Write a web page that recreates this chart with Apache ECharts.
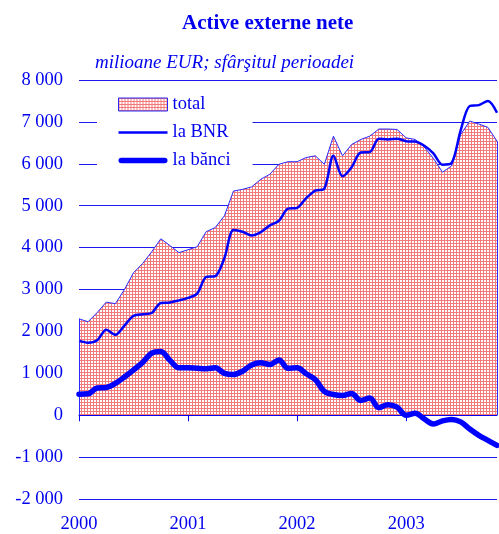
<!DOCTYPE html>
<html>
<head>
<meta charset="utf-8">
<script src="https://cdn.jsdelivr.net/npm/echarts@6/dist/echarts.min.js"></script>
<style>
  html, body { margin: 0; padding: 0; background: #fff; }
  #chart { width: 499px; height: 534px; }
</style>
</head>
<body>
<div id="chart"></div>
<script>
// Net foreign assets, monthly, Jan 2000 – Nov 2003 (million EUR, end of period)
const years = ['2000', '2001', '2002', '2003'];
const monthCount = 47;

const total = [
  2300, 2230, 2450, 2700, 2660, 3000, 3400, 3620, 3900, 4210, 4050, 3880,
  3950, 4020, 4380, 4480, 4760, 5350, 5390, 5450, 5630, 5750, 5990, 6050,
  6050, 6150, 6190, 5990, 6660, 6190, 6460, 6580, 6660, 6830, 6830, 6820,
  6620, 6580, 6400, 6130, 5800, 5950, 6700, 7020, 6950, 6870, 6540
];
const laBNR = [
  1780, 1730, 1790, 2040, 1920, 2140, 2370, 2410, 2440, 2680, 2690, 2740,
  2800, 2900, 3300, 3320, 3750, 4420, 4380, 4290, 4370, 4530, 4640, 4930,
  4950, 5180, 5360, 5410, 6190, 5700, 5920, 6270, 6280, 6600, 6580, 6600,
  6540, 6530, 6430, 6250, 5980, 6020, 6800, 7380, 7400, 7500, 7220
];
const laBanci = [
  500, 510, 650, 660, 760, 910, 1080, 1260, 1480, 1520, 1310, 1130,
  1130, 1120, 1110, 1130, 1000, 970, 1050, 1200, 1250, 1210, 1320, 1120,
  1130, 990, 850, 570, 495, 470, 520, 350, 410, 180, 250, 190,
  0, 45, -90, -210, -135, -100, -160, -330, -480, -600, -720
];

// month categories "YYYY-MM"
const categories = [];
for (let i = 0; i < monthCount; i++) {
  const y = years[Math.floor(i / 12)];
  const m = String(i % 12 + 1).padStart(2, '0');
  categories.push(y + '-' + m);
}

const BLUE = '#0000ee';
const SERIF = '"Liberation Serif", "Times New Roman", serif';

// fine red mesh used as the area fill
function meshPattern() {
  const c = document.createElement('canvas');
  c.width = 3; c.height = 3;
  const g = c.getContext('2d');
  g.fillStyle = '#ffffff';
  g.fillRect(0, 0, 3, 3);
  g.fillStyle = '#f27a7a';
  g.fillRect(0, 0, 3, 1);
  g.fillRect(0, 0, 1, 3);
  return c;
}
const mesh = { image: meshPattern(), repeat: 'repeat' };

function fmtThousands(v) {
  const s = Math.abs(v).toString().replace(/\B(?=(\d{3})+(?!\d))/g, ' ');
  return (v < 0 ? '-' : '') + s;
}

const chart = echarts.init(document.getElementById('chart'), null, { renderer: 'canvas' });

chart.setOption({
  animation: false,
  backgroundColor: '#ffffff',
  title: [
    {
      text: 'Active externe nete',
      left: 182, top: 13, padding: 0,
      textStyle: { fontFamily: SERIF, fontSize: 21, fontWeight: 'bold', color: BLUE }
    },
    {
      text: 'milioane EUR; sfârşitul perioadei',
      left: 95, top: 53, padding: 0,
      textStyle: { fontFamily: SERIF, fontSize: 19, fontStyle: 'italic', fontWeight: 'normal', color: BLUE }
    }
  ],
  legend: {
    orient: 'vertical',
    left: 97, top: 88,
    padding: [7, 22, 6, 21],
    backgroundColor: '#ffffff',
    itemWidth: 49, itemHeight: 13, itemGap: 9,
    symbolKeepAspect: true,
    textStyle: { fontFamily: SERIF, fontSize: 18.5, color: BLUE, lineHeight: 18 },
    data: [
      { name: 'total', icon: 'rect', itemStyle: { color: mesh, borderColor: '#2a2aff', borderWidth: 1 } },
      { name: 'la BNR', icon: 'path://M0 0h196v10H0z', itemStyle: { color: '#0000ff' } },
      { name: 'la bănci', icon: 'path://M5 0h79a5 5 0 0 1 0 10H5a5 5 0 0 1 0-10z', itemStyle: { color: '#0000ff' } }
    ]
  },
  grid: { left: 79, right: 2, top: 80, bottom: 32 },
  xAxis: [
    {
      type: 'category',
      data: categories,
      boundaryGap: false,
      z: 3,
      axisLine: { onZero: true, lineStyle: { color: BLUE, width: 1 } },
      axisTick: { show: true, length: 6, interval: (i) => i % 12 === 0, lineStyle: { color: BLUE } },
      axisLabel: { show: false },
      splitLine: { show: false }
    },
    {
      type: 'category',
      data: categories,
      boundaryGap: false,
      position: 'bottom',
      axisLine: { show: false, onZero: false },
      axisTick: { show: false },
      axisLabel: {
        show: true,
        interval: (i) => i % 12 === 0,
        formatter: (v) => v.slice(0, 4),
        margin: 16,
        fontFamily: SERIF, fontSize: 18.5, color: BLUE
      },
      splitLine: { show: false }
    }
  ],
  yAxis: {
    type: 'value',
    min: -2000, max: 8000, interval: 1000,
    axisLine: { show: false },
    axisTick: { show: false },
    axisLabel: { formatter: fmtThousands, margin: 16, fontFamily: SERIF, fontSize: 18.5, color: BLUE },
    splitLine: { show: true, lineStyle: { color: '#1a1aee', width: 1 } }
  },
  series: [
    {
      name: 'total',
      type: 'line',
      data: total,
      symbol: 'none',
      z: 2,
      color: '#2a2aff',
      lineStyle: { color: '#2a2aff', width: 1 },
      areaStyle: { color: mesh, opacity: 1, origin: 'auto' },
      markLine: {
        silent: true,
        symbol: 'none',
        label: { show: false },
        lineStyle: { color: '#2a2aff', width: 1, type: 'solid' },
        data: [
          [{ coord: [categories[0], 0] }, { coord: [categories[0], total[0]] }],
          [{ coord: [categories[monthCount - 1], 0] }, { coord: [categories[monthCount - 1], total[monthCount - 1]] }]
        ]
      }
    },
    {
      name: 'la BNR',
      type: 'line',
      data: laBNR,
      symbol: 'none',
      smooth: 0.3,
      z: 4,
      color: '#0000ff',
      lineStyle: { color: '#0000ff', width: 2.5 }
    },
    {
      name: 'la bănci',
      type: 'line',
      data: laBanci,
      symbol: 'none',
      smooth: 0.35,
      z: 5,
      color: '#0000ff',
      lineStyle: { color: '#0000ff', width: 5.5, cap: 'round', join: 'round' }
    }
  ]
});
</script>
</body>
</html>
